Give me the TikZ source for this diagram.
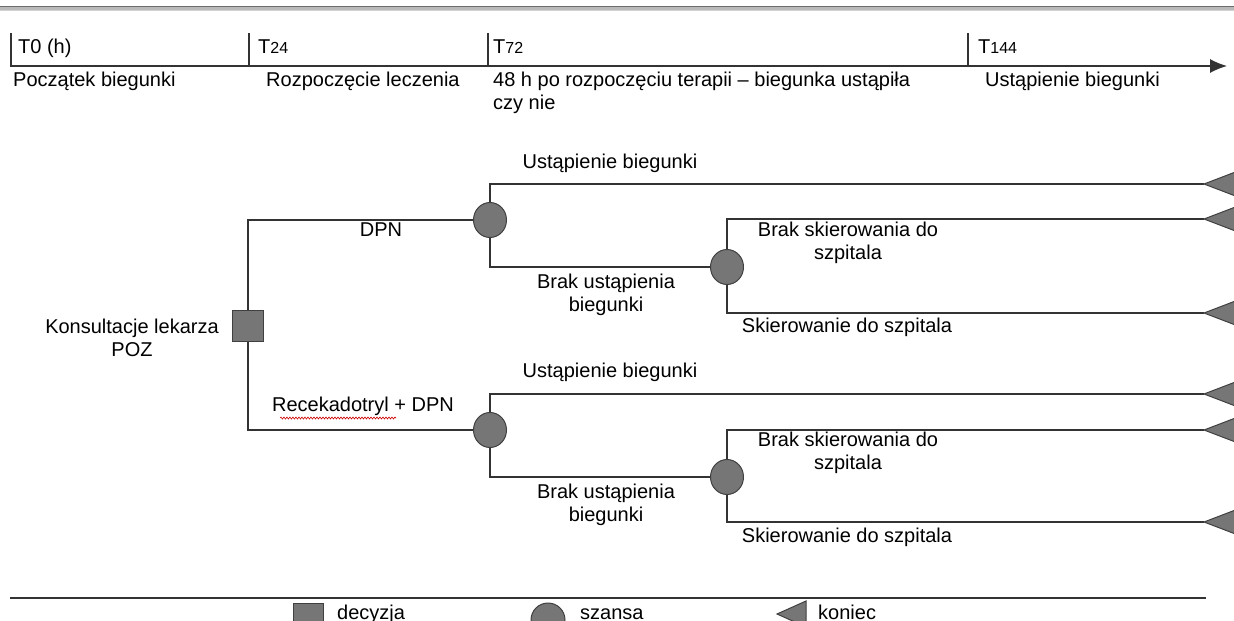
\documentclass[tikz,border=0pt]{standalone}
\usepackage{fontspec}
\setmainfont{Liberation Sans}
\usetikzlibrary{arrows.meta,decorations.pathmorphing,shapes.geometric}
\definecolor{linec}{HTML}{333333}
\definecolor{nodefill}{HTML}{767676}
\definecolor{nodedraw}{HTML}{404040}
\tikzset{
  txt/.style={inner sep=0pt, font=\fontsize{20}{23}\selectfont, text=black},
  branch/.style={draw=linec, line width=1.2pt},
  chance/.style={ellipse, draw=nodedraw, line width=1pt, fill=nodefill, minimum width=33pt, minimum height=35pt, inner sep=0pt},
  decision/.style={rectangle, draw=nodedraw, line width=1pt, fill=nodefill, minimum width=31pt, minimum height=31pt, inner sep=0pt},
  endtri/.style={draw=nodedraw, line width=1pt, fill=nodefill},
}
\newcommand{\sm}[1]{{\fontsize{16}{18}\selectfont #1}}
\begin{document}
\begin{tikzpicture}[x=1pt,y=-1pt]
\useasboundingbox (0,0) rectangle (1234,621);
\clip (0,0) rectangle (1234,621);
% top rule
\fill[gray!55] (0,5.5) rectangle (1234,10.5);
\draw[gray!85!black, line width=1pt] (0,6) -- (1234,6);
\draw[gray!35, line width=1pt] (0,10.5) -- (1234,10.5);

% timeline
\coordinate (ax0) at (10,66);
\coordinate (ax1) at (1227,66);
\draw[branch, -{Latex[length=17pt,width=14pt]}] (ax0) -- (ax1);
\coordinate (k0) at (11,66);   \coordinate (k0t) at (11,33);
\coordinate (k24) at (249,66); \coordinate (k24t) at (249,33);
\coordinate (k72) at (488,66); \coordinate (k72t) at (488,33);
\coordinate (k144) at (968,66);\coordinate (k144t) at (968,33);
\draw[branch] (k0) -- (k0t);
\draw[branch] (k24) -- (k24t);
\draw[branch] (k72) -- (k72t);
\draw[branch] (k144) -- (k144t);
\node[txt, anchor=base west] (tT0) at (18,53) {T0 (h)};
\node[txt, anchor=base west] (tT24) at (258,53) {T\sm{24}};
\node[txt, anchor=base west] (tT72) at (493,53) {T\sm{72}};
\node[txt, anchor=base west] (tT144) at (978,53) {T\sm{144}};
\node[txt, anchor=base west] (l0) at (13,86) {Początek biegunki};
\node[txt, anchor=base west] (l24) at (266,86) {Rozpoczęcie leczenia};
\node[txt, anchor=north west, align=left] (l72) at (493,71.5) {48 h po rozpoczęciu terapii – biegunka ustąpiła\\czy nie};
\node[txt, anchor=base west] (l144) at (985,86) {Ustąpienie biegunki};

% tree nodes
\node[decision] (sq) at (248,326) {};
\node[chance] (c1) at (490,220) {};
\node[chance] (c2) at (727,267) {};
\node[chance] (c3) at (490,430) {};
\node[chance] (c4) at (727,477) {};
\coordinate (e1) at (1204,184);
\coordinate (e2) at (1204,219);
\coordinate (e3) at (1204,313);
\coordinate (e4) at (1204,394);
\coordinate (e5) at (1204,430);
\coordinate (e6) at (1204,522);

% connectors
\draw[branch] (sq.north) |- (c1.west);
\draw[branch] (sq.south) |- (c3.west);
\draw[branch] (c1.north) |- (e1);
\draw[branch] (c1.south) |- (c2.west);
\draw[branch] (c2.north) |- (e2);
\draw[branch] (c2.south) |- (e3);
\draw[branch] (c3.north) |- (e4);
\draw[branch] (c3.south) |- (c4.west);
\draw[branch] (c4.north) |- (e5);
\draw[branch] (c4.south) |- (e6);

% end triangles
\foreach \e in {e1,e2,e3,e4,e5,e6}{
  \draw[endtri] (\e) -- ++(34,-13) -- ++(0,26) -- cycle;
}

% labels
\node[txt, anchor=north, align=center] (lk) at (132,318.5) {Konsultacje lekarza\\POZ};
\node[txt, anchor=base] (ldpn) at (381,236) {DPN};
\node[txt, anchor=base] (lu1) at (610,168) {Ustąpienie biegunki};
\node[txt, anchor=north, align=center] (lb1) at (606,273.5) {Brak ustąpienia\\biegunki};
\node[txt, anchor=north, align=center] (ls1) at (848,221.5) {Brak skierowania do\\szpitala};
\node[txt, anchor=base] (lsk1) at (847,332) {Skierowanie do szpitala};
\node[txt, anchor=base] (lrec) at (363,411) {Recekadotryl + DPN};
\coordinate (w0) at (280,418);
\coordinate (w1) at (396,418);
\draw[red!80!black, line width=0.6pt, decorate, decoration={snake, amplitude=1pt, segment length=3pt}] (w0) -- (w1);
\node[txt, anchor=base] (lu2) at (610,377) {Ustąpienie biegunki};
\node[txt, anchor=north, align=center] (lb2) at (606,483.5) {Brak ustąpienia\\biegunki};
\node[txt, anchor=north, align=center] (ls2) at (848,431.5) {Brak skierowania do\\szpitala};
\node[txt, anchor=base] (lsk2) at (847,542) {Skierowanie do szpitala};

% legend
\coordinate (lg0) at (10,598);
\coordinate (lg1) at (1206,598);
\draw[branch] (lg0) -- (lg1);
\node[decision, minimum width=30pt, minimum height=30pt] (lsq) at (308,618) {};
\node[txt, anchor=base west] (ldec) at (337,619) {decyzja};
\node[chance, minimum width=34pt, minimum height=34pt] (lci) at (548,620) {};
\node[txt, anchor=base west] (lsz) at (580,619) {szansa};
\coordinate (ltri) at (777,614);
\draw[endtri] (ltri) -- ++(29,-13) -- ++(0,26) -- cycle;
\node[txt, anchor=base west] (lko) at (818,619) {koniec};
\end{tikzpicture}
\end{document}
